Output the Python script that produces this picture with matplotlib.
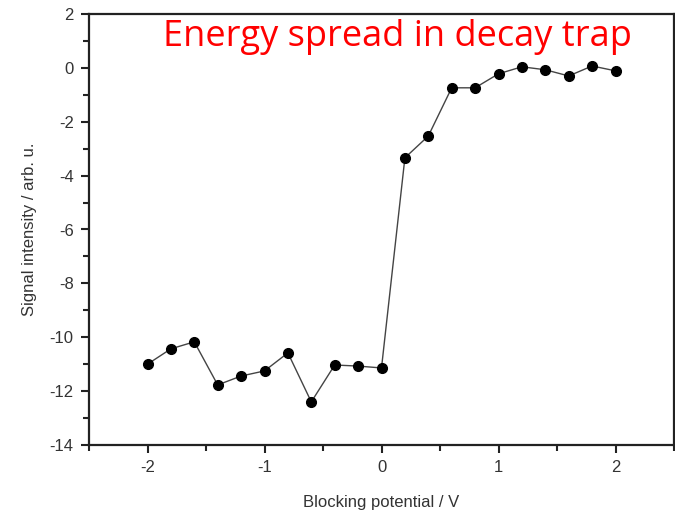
import numpy as np
import matplotlib.pyplot as plt
from matplotlib.ticker import MultipleLocator

# blocking potential (V) and measured signal (arb. u.)
potential = [-2.0, -1.8, -1.6, -1.4, -1.2, -1.0, -0.8, -0.6, -0.4, -0.2, 0.0,
             0.2, 0.4, 0.6, 0.8, 1.0, 1.2, 1.4, 1.6, 1.8, 2.0]
signal = [-11.0, -10.43, -10.17, -11.77, -11.44, -11.25, -10.58, -12.4, -11.03, -11.07, -11.14,
          -3.34, -2.53, -0.74, -0.74, -0.22, 0.04, -0.07, -0.30, 0.07, -0.11]

plt.rcParams['font.family'] = ['Liberation Sans', 'DejaVu Sans']
plt.rcParams['axes.unicode_minus'] = False

fig = plt.figure(figsize=(6.75, 5.11), dpi=100)
ax = fig.add_axes([89 / 675, 1 - 445 / 511, 585 / 675, 431 / 511])

ax.plot(potential, signal, color='#444444', lw=1, marker='o', ms=7,
        markerfacecolor='black', markeredgecolor='black')

ax.set_xlim(-2.5, 2.5)
ax.set_ylim(-14, 2)
ax.xaxis.set_major_locator(MultipleLocator(1))
ax.xaxis.set_minor_locator(MultipleLocator(0.5))
ax.yaxis.set_major_locator(MultipleLocator(2))
ax.yaxis.set_minor_locator(MultipleLocator(1))
ax.tick_params(which='both', direction='out', width=1.5, colors='#222222',
               labelsize=12, labelcolor='#333333', top=False, right=False)
ax.tick_params(which='major', length=6, pad=5)
ax.tick_params(which='minor', length=4)
for s in ax.spines.values():
    s.set_linewidth(1.6)
    s.set_color('#222222')

ax.set_xlabel('Blocking potential / V', fontsize=12, color='#333333', labelpad=14)
ax.set_ylabel('Signal intensity / arb. u.', fontsize=12, color='#333333', labelpad=9)

fig.text(397 / 675, 1 - 37 / 511, 'Energy spread in decay trap', color='red',
         fontsize=26, ha='center', va='center', family=['Open Sans', 'DejaVu Sans'])

fig.savefig('out.png', dpi=100)
